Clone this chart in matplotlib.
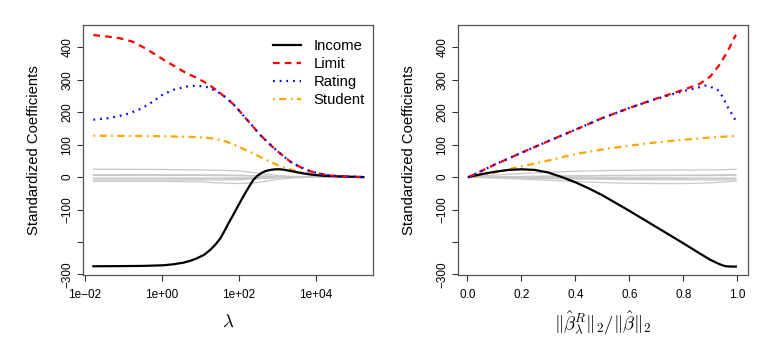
import matplotlib
matplotlib.use("Agg")
import matplotlib.pyplot as plt
import numpy as np

plt.rcParams['font.family'] = ['Liberation Sans', 'DejaVu Sans']
plt.rcParams['mathtext.fontset'] = 'cm'

# ---------------- Left panel data: log10(lambda) vs coefficient ----------------
income_l_x = [-1.77, -1.0, -0.5, 0.05, 0.3, 0.57, 0.75, 0.91, 1.1, 1.26, 1.4, 1.52, 1.63, 1.74, 1.85, 1.95, 2.06, 2.17, 2.28, 2.38, 2.49, 2.60, 2.71, 2.82, 2.95, 3.08, 3.21, 3.34, 3.60, 3.86, 4.20, 4.64, 5.24]
income_l_y = [-275, -274.5, -274, -272, -269, -264, -258, -251, -240, -225, -208, -190, -167, -142, -119, -97, -73, -50, -28, -9, 4, 13, 19, 22, 24, 24, 22, 19, 13, 8, 4, 2, 0]

limit_l_x = [-1.77, -1.38, -1.08, -0.76, -0.47, -0.19, 0.09, 0.38, 0.65, 0.93, 1.22, 1.48, 1.74, 1.87, 2.0, 2.15, 2.3, 2.43, 2.55, 2.69, 2.82, 2.95, 3.08, 3.21, 3.34, 3.47, 3.6, 3.86, 4.12, 4.46, 4.81, 5.24]
limit_l_y = [438, 433, 428, 418, 400, 380, 359, 339, 320, 305, 286, 263, 238, 224, 207, 186, 166, 148, 131, 115, 100, 86, 73, 60, 48, 39, 31, 18, 10, 4, 1, 0]

rating_l_x = [-1.77, -1.42, -1.10, -0.82, -0.51, -0.21, 0.05, 0.35, 0.65, 0.91, 1.17, 1.43, 1.61, 1.74, 1.87, 2.0, 2.15, 2.3, 2.43, 2.55, 2.69, 2.82, 2.95, 3.08, 3.21, 3.34, 3.47, 3.6, 3.86, 4.12, 4.46, 4.81, 5.24]
rating_l_y = [177, 181, 188, 197, 212, 234, 256, 271, 279, 282, 278, 265, 251, 238, 224, 207, 186, 166, 148, 131, 115, 100, 86, 73, 60, 48, 39, 31, 18, 10, 4, 1, 0]

student_l_x = [-1.77, -1.0, -0.38, 0.2, 0.74, 1.1, 1.35, 1.52, 1.69, 1.82, 1.95, 2.16, 2.38, 2.6, 2.82, 3.03, 3.25, 3.42, 3.60, 3.86, 4.12, 4.55, 5.24]
student_l_y = [127.5, 127, 126.5, 125.5, 124, 122, 119, 115, 109, 103, 96, 85, 73, 60, 47, 36, 27, 21, 16, 10, 6, 3, 0]

other_l_x = [-1.77, 0.0, 1.0, 1.5, 2.0, 2.5, 3.0, 3.5, 4.0, 4.5, 5.24]
cards_l = [24, 23.5, 22, 21, 19, 12, 5, 1.5, 0.5, 0, 0]
age_l = [-13, -13, -15, -18, -20, -17, -7, -2, -0.5, 0, 0]
asian_l = [7, 7, 7, 6.5, 6, 4, 2, 0.5, 0, 0, 0]
cauc_l = [5, 5, 5, 4.5, 4, 3, 1.5, 0.5, 0, 0, 0]
educ_l = [-3, -3, -3, -3, -2.5, -2, -1, -0.3, 0, 0, 0]
married_l = [-5, -5, -5, -5, -4.5, -3, -1.5, -0.5, 0, 0, 0]
gender_l = [-9, -9, -9, -9, -8, -5, -2, -0.5, 0, 0, 0]

# ---------------- Right panel data: norm ratio vs coefficient ----------------
income_r_x = [0.005, 0.04, 0.079, 0.115, 0.152, 0.2, 0.25, 0.3, 0.35, 0.4, 0.45, 0.5, 0.55, 0.6, 0.7, 0.8, 0.86, 0.9, 0.93, 0.945, 0.958, 0.975, 0.995]
income_r_y = [0, 7, 13, 18, 22, 24, 22, 14, 0, -16, -35, -56, -80, -104, -154, -204, -235, -255, -267, -272, -275, -276, -276]

limit_r_x = [0.005, 0.1, 0.2, 0.3, 0.4, 0.5, 0.6, 0.7, 0.8, 0.86, 0.9, 0.934, 0.964, 0.995]
limit_r_y = [0, 38, 75, 111, 146, 182, 213, 242, 269, 287, 310, 346, 387, 439]

rating_r_x = [0.005, 0.1, 0.2, 0.3, 0.4, 0.5, 0.6, 0.7, 0.8, 0.86, 0.88, 0.9, 0.927, 0.946, 0.964, 0.983, 0.995]
rating_r_y = [0, 38, 75, 111, 146, 182, 213, 241, 265, 277, 282, 279, 269, 248, 217, 191, 173]

student_r_x = [0.005, 0.1, 0.2, 0.3, 0.4, 0.5, 0.6, 0.7, 0.8, 0.9, 0.995]
student_r_y = [0, 14, 33, 51, 71, 85, 97, 107, 115, 122, 127]

other_r_x = [0.005, 0.1, 0.2, 0.3, 0.4, 0.5, 0.6, 0.7, 0.8, 0.9, 0.95, 0.995]
cards_r = [0, 6, 11, 15, 18, 20, 21, 21.5, 22, 22, 23, 24]
age_r = [0, -3, -6, -10, -14, -17, -19, -20, -20, -18, -15, -12]
asian_r = [0, 1, 2, 3, 4, 5, 5.5, 6, 6, 6.5, 7, 7]
cauc_r = [0, 1, 1.5, 2, 3, 3.5, 4, 4, 4.5, 4.5, 5, 5]
educ_r = [0, -0.5, -1, -1.5, -2, -2, -2.5, -2.5, -3, -3, -3, -3]
married_r = [0, -1, -2, -3, -3.5, -4, -4.5, -5, -5, -5, -5, -5]
gender_r = [0, -2, -3, -5, -6, -7, -8, -8, -8.5, -9, -9, -9]

ytick_vals = [-300, -200, -100, 0, 100, 200, 300, 400]
ytick_labels = ['\u2212300', '', '\u2212100', '0', '100', '200', '300', '400']
xtick_left_exp = [-2, 0, 2, 4]
xtick_left_labels = ['1e\u221202', '1e+00', '1e+02', '1e+04']
xtick_right = [0.0, 0.2, 0.4, 0.6, 0.8, 1.0]
xtick_right_labels = ['0.0', '0.2', '0.4', '0.6', '0.8', '1.0']

names = ['Income', 'Limit', 'Rating', 'Student']
colors = ['black', '#FF0000', '#0000FF', '#FFA500']

W, H = 767, 339
fig = plt.figure(figsize=(W / 100, H / 100), dpi=100)
axL = fig.add_axes([83 / W, 1 - 275 / H, 290 / W, 250 / H])
axR = fig.add_axes([458 / W, 1 - 275 / H, 290 / W, 250 / H])

gray = '#C8C8C8'
lw = 1.6
styles = [dict(ls='-'), dict(dashes=(3, 2.3)), dict(dashes=(0.8, 2.2)), dict(dashes=(0.8, 2.0, 3.2, 2.0))]

# left
for arr in [cards_l, age_l, asian_l, cauc_l, educ_l, married_l, gender_l]:
    axL.plot(10 ** np.array(other_l_x), arr, color=gray, lw=0.9)
left_series = [(income_l_x, income_l_y), (limit_l_x, limit_l_y), (rating_l_x, rating_l_y), (student_l_x, student_l_y)]
order = [3, 0, 1, 2]
handles = [None] * 4
for i in order:
    xs, ys = left_series[i]
    h, = axL.plot(10 ** np.array(xs), ys, color=colors[i], lw=lw, label=names[i], **styles[i])
    handles[i] = h
axL.set_xscale('log')
axL.set_xlim(10 ** -2.04, 10 ** 5.49)
axL.set_xticks([10.0 ** e for e in xtick_left_exp])
axL.set_xticklabels(xtick_left_labels)
axL.minorticks_off()
axL.set_xlabel(r'$\lambda$', fontsize=13.5)

# right
for arr in [cards_r, age_r, asian_r, cauc_r, educ_r, married_r, gender_r]:
    axR.plot(other_r_x, arr, color=gray, lw=0.9)
right_series = [(income_r_x, income_r_y), (limit_r_x, limit_r_y), (rating_r_x, rating_r_y), (student_r_x, student_r_y)]
for i in order:
    xs, ys = right_series[i]
    axR.plot(xs, ys, color=colors[i], lw=lw, **styles[i])
axR.set_xlim(-0.035, 1.04)
axR.set_xticks(xtick_right)
axR.set_xticklabels(xtick_right_labels)
axR.set_xlabel(r'$\|\hat{\beta}^R_\lambda\|_2/\|\hat{\beta}\|_2$', fontsize=13.5)

for ax in (axL, axR):
    ax.set_ylim(-302, 469)
    ax.set_yticks(ytick_vals)
    ax.set_yticklabels(ytick_labels)
    ax.tick_params(axis='both', direction='out', length=4, width=0.8, colors='#333333', labelsize=8.5, labelcolor='black')
    ax.tick_params(axis='y', labelrotation=90, pad=3)
    ax.tick_params(axis='x', pad=6)
    for lab in ax.get_yticklabels():
        lab.set_va('center')
    for s in ax.spines.values():
        s.set_color('#555555')
        s.set_linewidth(0.9)
    ax.set_ylabel('Standardized Coefficients', fontsize=10.7, va='center')
    ax.yaxis.set_label_coords(-0.168, 0.5)
    ax.xaxis.label.set_va('center')
    ax.xaxis.set_label_coords(0.5, -0.19)

axL.legend(handles=handles, labels=names, loc='upper left', bbox_to_anchor=(0.655, 0.945),
           frameon=False, fontsize=10.7, handlelength=1.9, handletextpad=0.85,
           borderpad=0, borderaxespad=0, labelspacing=0.27)

fig.savefig('out.png', dpi=100)
